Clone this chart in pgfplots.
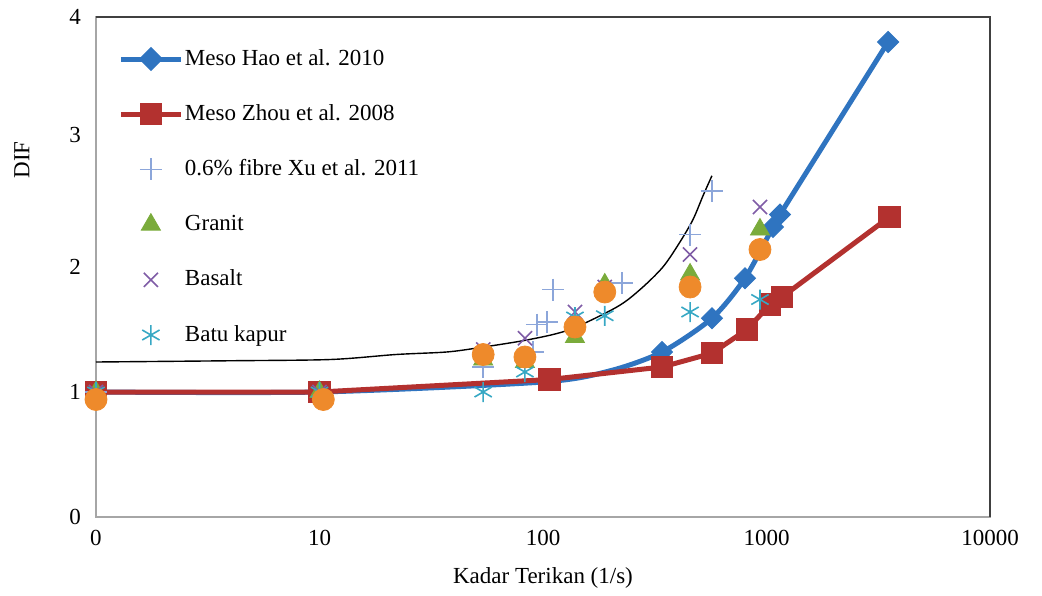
\documentclass[border=0pt]{standalone}
\usepackage{fontspec}
\setmainfont{Liberation Serif}
\usepackage{pgfplots}
\pgfplotsset{compat=1.18}
\definecolor{haoblue}{HTML}{2F74C0}
\definecolor{zhoured}{HTML}{B3312F}
\definecolor{fibreblue}{HTML}{8CA6DA}
\definecolor{granitgreen}{HTML}{7AAB3B}
\definecolor{basaltpurple}{HTML}{7F5CA6}
\definecolor{kapurteal}{HTML}{37A8C4}
\definecolor{circorange}{HTML}{EE8A2B}
\newcommand{\tf}{\fontsize{11.5}{13}\selectfont}
\begin{document}
\begin{tikzpicture}
\path[use as bounding box] (-48pt,-39pt) rectangle (473pt,258.5pt);
\begin{axis}[
  scale only axis, width=447pt, height=250pt,
  xmode=log, xmin=1, xmax=10000, ymin=0, ymax=4,
  xtick={1,10,100,1000,10000}, xticklabels={0,10,100,1000,10000},
  ytick={0,1,2,3.06,4}, yticklabels={0,1,2,3,4},
  minor xtick={}, tick style={draw=none},
  axis line style={draw=black!35, line width=0.8pt},
  tick label style={font=\tf},
  xticklabel style={yshift=-3pt}, yticklabel style={xshift=-4pt},
  xlabel={Kadar Terikan (1/s)}, ylabel={DIF},
  label style={font=\tf},
  xlabel style={at={(axis description cs:0.5,-0.122)}, anchor=center},
  ylabel style={at={(axis description cs:-0.0828,0.714)}, anchor=center},
  clip=false,
  legend image code/.code={\draw[mark repeat=2,mark phase=2,#1] plot coordinates {(0pt,0pt) (15pt,0pt) (30pt,0pt)};},
  legend style={draw=none, fill=none, at={(axis description cs:0.0246,0.944)}, anchor=north west,
    inner sep=0pt, row sep=14pt, column sep=0pt, font=\tf,
    nodes={inner sep=0.8pt, text height=9pt, text depth=3pt}},
  legend cell align=left,
]
% Hao curve (line) -- legend entry with diamond
\addplot[haoblue, line width=2.5pt, smooth, tension=0.45, no marks,
  legend image code/.code={\draw[haoblue, line width=2.5pt] (0pt,0pt) -- (30pt,0pt);
    \fill[haoblue] (15pt,4.3pt) -- (19.3pt,0pt) -- (15pt,-4.3pt) -- (10.7pt,0pt) -- cycle;}]
  coordinates {(1,1.0) (10,1.0) (100,1.08) (200,1.17) (341,1.32) (570,1.59) (801,1.91) (1069,2.32) (1149,2.42)};
\addlegendentry{Meso Hao et al. 2010}
\addplot[haoblue, line width=2.5pt, no marks, forget plot]
  coordinates {(1149,2.42) (3500,3.80)};
\addplot[only marks, haoblue, mark=square*, mark size=3.7pt, mark options={rotate=45, line width=0.5pt, fill=haoblue}, forget plot]
  coordinates {(1,1.0) (10,1.0) (341,1.32) (570,1.59) (801,1.91) (1069,2.32) (1149,2.42) (3500,3.80)};
\addplot[zhoured, line width=2.5pt, mark=square*, mark size=5.3pt, mark options={line width=0.5pt, fill=zhoured}]
  coordinates {(1,1.0) (10,1.0) (107,1.10) (341,1.20) (570,1.31) (818,1.50) (1037,1.70) (1173,1.76) (3550,2.40)};
\addlegendentry{Meso Zhou et al. 2008}
\addplot[only marks, fibreblue, mark=+, mark size=5.5pt, mark options={line width=0.8pt}]
  coordinates {(1,1.0) (54,1.20) (90,1.32) (94,1.54) (104,1.56) (111,1.82) (226,1.87) (455,2.26) (570,2.61)};
\addlegendentry{0.6\% fibre Xu et al. 2011}
\addplot[only marks, granitgreen, mark=triangle*, mark size=5.5pt, mark options={fill=granitgreen}]
  coordinates {(1,1.0) (10,1.0) (54,1.26) (83,1.24) (139,1.44) (189,1.86) (455,1.94) (935,2.30)};
\addlegendentry{Granit}
\addplot[only marks, basaltpurple, mark=x, mark size=5pt, mark options={line width=0.8pt}]
  coordinates {(1,1.0) (10,1.0) (54,1.34) (83,1.43) (139,1.64) (189,1.84) (455,2.10) (935,2.48)};
\addlegendentry{Basalt}
\addplot[only marks, kapurteal, mark=asterisk, mark size=5pt, mark options={line width=0.8pt}]
  coordinates {(1,1.0) (10,1.0) (54,1.0) (83,1.16) (139,1.60) (189,1.61) (455,1.64) (935,1.74)};
\addlegendentry{Batu kapur}
\addplot[only marks, circorange, mark=*, mark size=5.5pt, mark options={draw=circorange, fill=circorange}, forget plot]
  coordinates {(1,0.94) (10.4,0.94) (54,1.30) (83,1.28) (139,1.52) (189,1.80) (455,1.84) (935,2.14)};
\addplot[black, line width=0.7pt, smooth, tension=0.5, no marks, forget plot]
  coordinates {(1,1.24) (4,1.25) (11.2,1.26) (22,1.30) (37,1.32) (52,1.355) (87,1.42) (132,1.50) (214,1.68) (272,1.82) (344,2.00) (410,2.20) (469,2.38) (520,2.57) (570,2.73)};
\draw[black!75, line width=0.8pt] (rel axis cs:0,1) -- (rel axis cs:1,1) -- (rel axis cs:1,0);
\end{axis}
\end{tikzpicture}
\end{document}
